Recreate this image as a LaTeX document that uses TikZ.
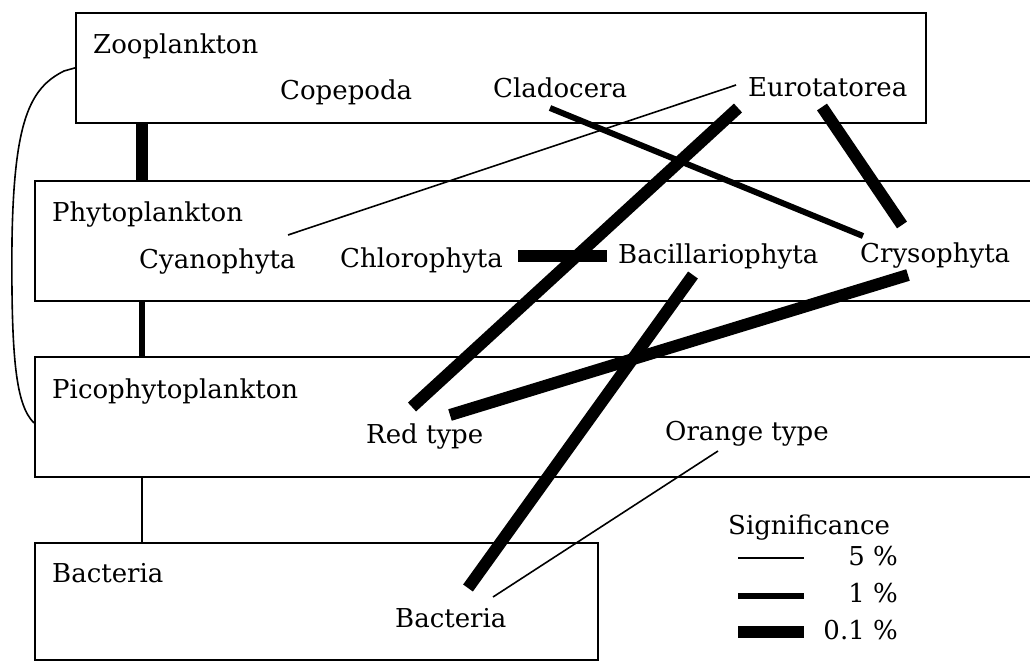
\documentclass[tikz,border=0pt]{standalone}
\usepackage{fontspec}
\setmainfont{DejaVu Serif}
\begin{document}
\begin{tikzpicture}[x=1pt,y=-1pt,
  box/.style={draw,line width=1.8pt,inner sep=0pt,anchor=north west},
  lbl/.style={anchor=base west,inner sep=0pt,font=\fontsize{26}{30}\selectfont},
  lblr/.style={lbl,anchor=base east},
  sfive/.style={line width=1.6pt},
  sone/.style={line width=6pt},
  szero/.style={line width=12pt}]
\useasboundingbox (0,0) rectangle (1030,661);
\fill[white] (0,0) rectangle (1030,661);
% boxes
\node[box,minimum width=850pt,minimum height=110pt] (zoo) at (75,12) {};
\node[box,minimum width=1020pt,minimum height=120pt] (phy) at (34,180) {};
\node[box,minimum width=1020pt,minimum height=120pt] (pico) at (34,356) {};
\node[box,minimum width=563pt,minimum height=117pt] (bact) at (34,542) {};
% labels
\node[lbl] (zoolbl) at (93,53) {Zooplankton};
\node[lbl] (cop) at (280,99) {Copepoda};
\node[lbl] (cla) at (493,97) {Cladocera};
\node[lbl] (eur) at (748,96) {Eurotatorea};
\node[lbl] (phylbl) at (52,221) {Phytoplankton};
\node[lbl] (cya) at (139,268) {Cyanophyta};
\node[lbl] (chl) at (340,267) {Chlorophyta};
\node[lbl] (bac) at (618,263) {Bacillariophyta};
\node[lbl] (cry) at (860,262) {Crysophyta};
\node[lbl] (picolbl) at (52,398) {Picophytoplankton};
\node[lbl] (red) at (366,443) {Red type};
\node[lbl] (ora) at (665,440) {Orange type};
\node[lbl] (bactlbl) at (52,582) {Bacteria};
\node[lbl] (bacti) at (395,627) {Bacteria};
\node[lbl] (sig) at (728,534) {Significance};
\node[lblr] (pfive) at (898,565) {5 \%};
\node[lblr] (pone) at (898,602) {1 \%};
\node[lblr] (pzero) at (898,639) {0.1 \%};
% connector end points
\coordinate (vx) at (142,0);
\coordinate (eurA) at (736,85);
\coordinate (cyaA) at (288,235);
\coordinate (claA) at (550,108);
\coordinate (cryA) at (863,236);
\coordinate (eurB) at (738,108);
\coordinate (redA) at (412,407);
\coordinate (eurC) at (822,107);
\coordinate (cryB) at (902,225);
\coordinate (chlA) at (518,256);
\coordinate (bacA) at (607,256);
\coordinate (bacB) at (693,275);
\coordinate (bactA) at (468,588);
\coordinate (cryC) at (908,275);
\coordinate (redB) at (450,415);
\coordinate (oraA) at (718,451);
\coordinate (bactB) at (493,597);
\coordinate (picoA) at (34,423);
% vertical links between boxes
\draw[szero] (vx |- zoo.south) -- (vx |- phy.north);
\draw[sone] (vx |- phy.south) -- (vx |- pico.north);
\draw[sfive] (vx |- pico.south) -- (vx |- bact.north);
% left curve
\draw[line width=1.6pt] (zoo.west) -- (64,71) .. controls (30,88) and (14,120) .. (12,240)
  .. controls (11,360) and (16,405) .. (picoA);
% correlations
\draw[sfive] (eurA) -- (cyaA);
\draw[sone] (claA) -- (cryA);
\draw[szero] (eurB) -- (redA);
\draw[szero] (eurC) -- (cryB);
\draw[szero] (chlA) -- (bacA);
\draw[szero] (bacB) -- (bactA);
\draw[szero] (cryC) -- (redB);
\draw[sfive] (oraA) -- (bactB);
% legend
\coordinate (lfa) at (738,558);
\coordinate (lfb) at (804,558);
\coordinate (loa) at (738,596);
\coordinate (lob) at (804,596);
\coordinate (lza) at (738,632);
\coordinate (lzb) at (804,632);
\draw[sfive] (lfa) -- (lfb);
\draw[sone] (loa) -- (lob);
\draw[szero] (lza) -- (lzb);
\end{tikzpicture}
\end{document}
